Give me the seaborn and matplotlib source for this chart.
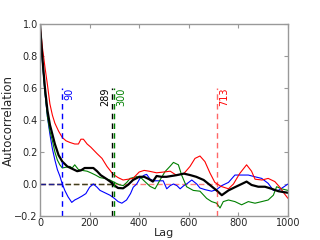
import numpy as np
import pandas as pd
import matplotlib
matplotlib.use("Agg")
import matplotlib.pyplot as plt
import seaborn as sns

# --- values ---
blue_lag = [0, 10, 20, 30, 40, 50, 60, 70, 80, 90, 100, 113, 128, 140, 153, 170, 185, 200, 215,
            230, 242, 262, 282, 300, 315, 330, 349, 365, 376, 390, 403, 420, 430, 444, 460, 480,
            497, 511, 525, 538, 552, 565, 580, 591, 612, 632, 645, 665, 692, 712, 733, 760, 786,
            813, 840, 867, 894, 920, 941, 961, 981, 1000]
blue_acf = [1.0, 0.76, 0.57, 0.42, 0.31, 0.22, 0.15, 0.09, 0.05, 0.0, -0.04, -0.08, -0.115, -0.1,
            -0.09, -0.075, -0.06, -0.02, 0.0, -0.02, -0.04, -0.055, -0.07, -0.09, -0.11, -0.12,
            -0.1, -0.06, -0.02, 0.0, 0.035, 0.055, 0.06, 0.03, 0.02, 0.02, 0.02, -0.03, -0.01,
            0.0, -0.01, -0.03, -0.01, 0.0, 0.025, 0.0, -0.025, -0.035, -0.045, -0.035, -0.01,
            0.01, 0.056, 0.056, 0.056, 0.045, 0.035, 0.004, -0.04, -0.04, -0.02, 0.0]

green_lag = [0, 10, 20, 30, 40, 50, 60, 70, 80, 90, 105, 120, 130, 140, 155, 170, 190, 205, 225,
             242, 260, 282, 300, 320, 336, 350, 363, 390, 410, 423, 444, 464, 484, 504, 524, 538,
             558, 571, 591, 618, 645, 672, 692, 712, 726, 739, 760, 786, 813, 840, 867, 894, 920,
             941, 954, 974, 1000]
green_acf = [1.0, 0.76, 0.57, 0.42, 0.33, 0.27, 0.2, 0.15, 0.12, 0.1, 0.105, 0.11, 0.1, 0.12,
             0.09, 0.085, 0.08, 0.07, 0.055, 0.04, 0.035, 0.025, 0.01, -0.005, -0.01, 0.01, 0.035,
             0.046, 0.035, 0.015, -0.015, -0.03, 0.025, 0.077, 0.11, 0.135, 0.12, 0.056, -0.017,
             -0.04, -0.045, -0.09, -0.11, -0.12, -0.15, -0.11, -0.1, -0.11, -0.13, -0.11, -0.12,
             -0.11, -0.1, -0.07, -0.017, -0.03, -0.04]

red_lag = [0, 10, 20, 30, 40, 50, 60, 75, 90, 105, 120, 140, 155, 165, 175, 190, 205, 230, 250,
           270, 295, 315, 335, 355, 375, 400, 420, 440, 470, 500, 525, 550, 580, 605, 625, 645,
           665, 685, 705, 730, 760, 780, 805, 833, 853, 867, 895, 920, 947, 967, 985, 1000]
red_acf = [1.0, 0.85, 0.73, 0.62, 0.5, 0.43, 0.38, 0.33, 0.29, 0.27, 0.26, 0.25, 0.25, 0.28,
           0.28, 0.25, 0.23, 0.19, 0.16, 0.11, 0.06, 0.04, 0.025, 0.03, 0.035, 0.075, 0.085,
           0.08, 0.07, 0.075, 0.08, 0.055, 0.065, 0.11, 0.16, 0.175, 0.14, 0.07, 0.01, -0.015,
           -0.03, 0.0, 0.065, 0.12, 0.08, 0.03, 0.025, 0.035, 0.015, -0.02, -0.06, -0.09]

black_lag = [0, 10, 20, 30, 40, 50, 60, 75, 90, 110, 130, 150, 165, 180, 200, 215, 230, 245, 265,
             285, 300, 315, 335, 355, 375, 400, 420, 440, 455, 470, 490, 510, 530, 550, 580, 605,
             630, 660, 685, 712, 733, 760, 786, 813, 833, 853, 880, 907, 934, 961, 980, 1000]
black_acf = [1.0, 0.78, 0.6, 0.46, 0.37, 0.31, 0.25, 0.18, 0.14, 0.11, 0.095, 0.08, 0.085, 0.1,
             0.1, 0.1, 0.08, 0.055, 0.035, 0.013, -0.01, -0.025, -0.027, -0.005, 0.025, 0.045,
             0.045, 0.03, 0.015, 0.05, 0.045, 0.045, 0.05, 0.055, 0.065, 0.056, 0.045, 0.025,
             -0.006, -0.04, -0.07, -0.04, -0.02, 0.0, 0.015, -0.006, -0.017, -0.017, -0.03,
             -0.045, -0.05, -0.055]

# decorrelation lag per series
series = ["red", "green", "black", "blue"]
decorr_lag = {"blue": 90, "black": 289, "green": 300, "red": 713}

# --- style ---
sns.set_style("ticks", {"xtick.direction": "in", "ytick.direction": "in",
                        "axes.edgecolor": "#999999"})
plt.rcParams["font.family"] = ["DejaVu Sans"]

fig = plt.figure(figsize=(3.2, 2.4), dpi=100)
ax = fig.add_axes([0.125, 0.1, 0.775, 0.8])

data = {"blue": (blue_lag, blue_acf), "green": (green_lag, green_acf),
        "red": (red_lag, red_acf), "black": (black_lag, black_acf)}
widths = {"blue": 0.8, "green": 0.8, "red": 0.8, "black": 1.6}

for name in ["blue", "green", "red", "black"]:
    lags, acf = data[name]
    sns.lineplot(x=lags, y=acf, color=name, lw=widths[name], ax=ax)

# dashed guides for each decorrelation lag
for name in series:
    lag = decorr_lag[name]
    alpha = 0.6 if name == "red" else 1.0
    vw = 1.0
    ax.plot([0, lag], [0, 0], ls=(0, (4, 2)), color=name, lw=1.0, alpha=0.5, zorder=1)
    ax.plot([lag, lag], [-0.2, 0.6], ls=(0, (4, 3)), color=name, lw=vw, alpha=alpha)
    if name == "black":
        ax.text(lag - 6, 0.6, str(lag), rotation=90, ha="right", va="top",
                color=name, fontsize=7)
    else:
        ax.text(lag + 8, 0.6, str(lag), rotation=90, ha="left", va="top",
                color=name, fontsize=7)

ax.set_xlim(0, 1000)
ax.set_ylim(-0.2, 1.0)
ax.set_xticks([0, 200, 400, 600, 800, 1000])
ax.set_yticks([-0.2, 0.0, 0.2, 0.4, 0.6, 0.8, 1.0])
ax.tick_params(labelsize=7, top=True, right=True, length=3, color="#999999", pad=1.5)
ax.set_xlabel("Lag", fontsize=8, labelpad=0)
ax.set_ylabel("Autocorrelation", fontsize=8.5, labelpad=0)
for sp in ax.spines.values():
    sp.set_linewidth(1.0)

fig.savefig("out.png", dpi=100)
